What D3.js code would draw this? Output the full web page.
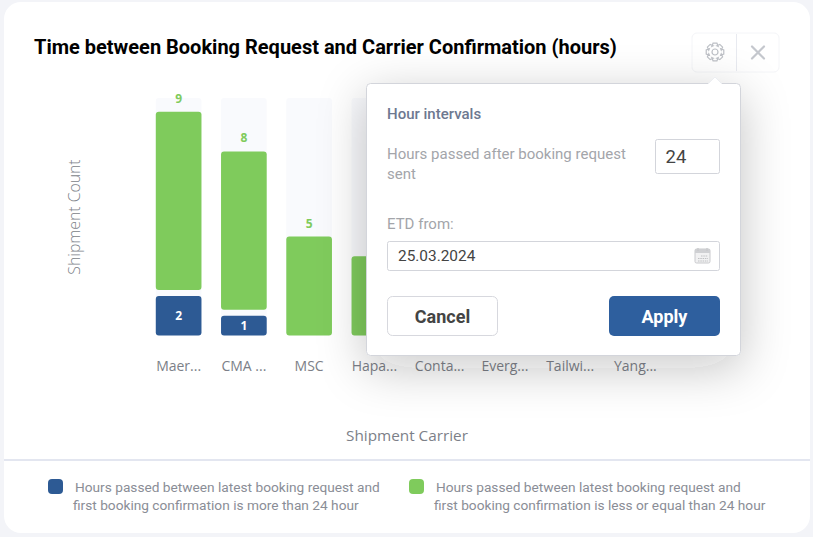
<!DOCTYPE html>
<html><head><meta charset="utf-8">
<script src="https://cdn.jsdelivr.net/npm/d3@7/dist/d3.min.js"></script>
<style>
html,body{margin:0;padding:0;background:#f3f4f8;overflow:hidden}
svg{display:block}
text{font-family:Roboto,sans-serif}
.os{font-family:"Open Sans",sans-serif}
</style></head><body>
<svg id="c" width="813" height="537"></svg>
<script>
const categories=["Maer...","CMA ...","MSC","Hapa...","Conta...","Everg...","Tailwi...","Yang..."];
// The last four carriers' values lie fully behind the popup and cannot be read: null, nothing drawn.
const lateCounts=[2,1,0,0,null,null,null,null];
const onTimeCounts=[9,8,5,4,null,null,null,null];
const yDomainMax=12;
const titleText="Time between Booking Request and Carrier Confirmation (hours)";
const yAxisTitle="Shipment Count";
const xAxisTitle="Shipment Carrier";
const legendLate=["Hours passed between latest booking request and","first booking confirmation is more than 24 hour"];
const legendOnTime=["Hours passed between latest booking request and","first booking confirmation is less or equal than 24 hour"];
const BLUE="#2d5a94",GREEN="#7fcb5c",GAP=6,POPUP_LEFT=366;

const svg=d3.select("#c");
const defs=svg.append("defs");
const f=defs.append("filter").attr("id","sh").attr("x","-40%").attr("y","-40%").attr("width","180%").attr("height","180%");
f.append("feDropShadow").attr("dx",0).attr("dy",12).attr("stdDeviation",24).attr("flood-color","#20242c").attr("flood-opacity",0.24);

// card
svg.append("rect").attr("x",4).attr("y",2).attr("width",806).attr("height",531).attr("rx",17).attr("fill","#fff");
svg.append("line").attr("x1",4).attr("x2",810).attr("y1",460).attr("y2",460).attr("stroke","#e3e6f0").attr("stroke-width",2);
svg.append("text").attr("x",34).attr("y",54).attr("font-size",20).attr("font-weight",700).attr("fill","#000").text(titleText);

// scales
const x=d3.scaleBand().domain(categories).range([146,668]).paddingInner(0.3).paddingOuter(0.15);
const y=d3.scaleLinear().domain([0,yDomainMax]).range([335.5,98]);
const g=svg.append("g");
const rows=categories.map((c,i)=>({c,late:lateCounts[i],ok:onTimeCounts[i]})).filter(d=>d.ok!==null);
const cx=d=>x(d.c)+x.bandwidth()/2;
g.selectAll(".bg").data(rows).join("rect").attr("x",d=>x(d.c)).attr("width",x.bandwidth())
 .attr("y",y(yDomainMax)).attr("height",y(0)-y(yDomainMax)).attr("rx",3).attr("fill","#f9fafd");
g.selectAll(".ok").data(rows).join("rect").attr("x",d=>x(d.c)).attr("width",x.bandwidth())
 .attr("y",d=>y(d.late+d.ok)-(d.late?GAP:0)).attr("height",d=>y(0)-y(d.ok)).attr("rx",3).attr("fill",GREEN);
g.selectAll(".late").data(rows.filter(d=>d.late)).join("rect").attr("x",d=>x(d.c)).attr("width",x.bandwidth())
 .attr("y",d=>y(d.late)).attr("height",d=>y(0)-y(d.late)).attr("rx",3).attr("fill",BLUE);
g.selectAll(".okl").data(rows.filter(d=>cx(d)<POPUP_LEFT)).join("text").attr("class","os").attr("x",cx)
 .attr("y",d=>y(d.late+d.ok)-(d.late?GAP:0)-9).attr("text-anchor","middle").attr("font-size",12).attr("font-weight",700).attr("fill",GREEN).text(d=>d.ok);
g.selectAll(".latel").data(rows.filter(d=>d.late)).join("text").attr("class","os").attr("x",cx)
 .attr("y",d=>y(d.late/2)+4.5).attr("text-anchor","middle").attr("font-size",12).attr("font-weight",700).attr("fill","#fff").text(d=>d.late);

const ax=svg.append("g").attr("transform","translate(0,371)").call(d3.axisBottom(x).tickSize(0).tickPadding(0));
ax.select(".domain").remove();
ax.selectAll("text").attr("class","os").attr("font-size",14).attr("font-family","Open Sans").attr("fill","#7c7f88").attr("dy",0).attr("y",0);

svg.append("text").attr("class","os").attr("transform","translate(80,217) rotate(-90)").attr("text-anchor","middle").attr("font-size",15.8).attr("fill","#7c7f88").attr("font-weight",300).text(yAxisTitle);
svg.append("text").attr("class","os").attr("x",407).attr("y",441).attr("text-anchor","middle").attr("font-size",15.3).attr("fill","#7c7f88").text(xAxisTitle);

// legend
const legend=[{x:48,tx:[75,73],c:BLUE,t:legendLate},{x:409,tx:[436,434],c:GREEN,t:legendOnTime}];
legend.forEach(l=>{
 svg.append("rect").attr("x",l.x).attr("y",479).attr("width",15).attr("height",15).attr("rx",4).attr("fill",l.c);
 l.t.forEach((s,i)=>svg.append("text").attr("x",l.tx[i]).attr("y",492+i*17.5).attr("font-size",13.7).attr("fill","#8a8d96").text(s));
});

// toolbar
svg.append("rect").attr("x",692).attr("y",33).attr("width",87).attr("height",39).attr("rx",5).attr("fill","#fff").attr("stroke","#f4f5f8");
svg.append("line").attr("x1",736.5).attr("x2",736.5).attr("y1",34).attr("y2",71).attr("stroke","#e8eaf0");
const gear=svg.append("g").attr("transform","translate(715,52)").attr("fill","none").attr("stroke","#bdc0c6").attr("stroke-width",1.2);
gear.append("path").attr("d",d3.range(8).map(i=>{const a=i*Math.PI/4,p=(r,o)=>[(r*Math.cos(a+o)).toFixed(2),(r*Math.sin(a+o)).toFixed(2)].join(",");
  return (i?"L":"M")+p(6.5,-.5)+"L"+p(9,-.22)+"L"+p(9,.22)+"L"+p(6.5,.5);}).join("")+"Z");
gear.append("circle").attr("r",3);
svg.append("path").attr("d","M752,46.5L764,58.5M764,46.5L752,58.5").attr("stroke","#c4c7cd").attr("stroke-width",2.2).attr("stroke-linecap","round");

// popup
svg.append("rect").attr("x",366.5).attr("y",83.5).attr("width",374).attr("height",272).attr("rx",4).attr("fill","#fff").attr("stroke","#d3d5db").attr("filter","url(#sh)");
svg.append("path").attr("d","M708,84L715,77L722,84").attr("fill","#fff").attr("stroke","#eceef2");
svg.append("rect").attr("x",709).attr("y",84).attr("width",12).attr("height",1.5).attr("fill","#fff");
svg.append("text").attr("x",387).attr("y",119).attr("font-size",15).attr("font-weight",500).attr("fill","#6d7890").text("Hour intervals");
svg.append("text").attr("x",387).attr("y",159).attr("font-size",15).attr("fill","#a3a5aa").text("Hours passed after booking request");
svg.append("text").attr("x",387).attr("y",179).attr("font-size",15).attr("fill","#a3a5aa").text("sent");
svg.append("rect").attr("x",655.5).attr("y",139.5).attr("width",64).attr("height",34).attr("rx",2).attr("fill","#fff").attr("stroke","#d3d5db");
svg.append("text").attr("x",665.5).attr("y",163).attr("font-size",18.5).attr("fill","#444").text("24");
svg.append("text").attr("x",387).attr("y",229).attr("font-size",15).attr("fill","#a3a5aa").text("ETD from:");
svg.append("rect").attr("x",387.5).attr("y",241.5).attr("width",332).attr("height",29).attr("rx",2).attr("fill","#fff").attr("stroke","#d3d5db");
svg.append("text").attr("x",398).attr("y",261).attr("font-size",15.4).attr("fill","#444").text("25.03.2024");
const cal=svg.append("g");
cal.append("rect").attr("x",695).attr("y",249).attr("width",15).attr("height",14).attr("rx",1.5).attr("fill","#f1f1f2").attr("stroke","#c9cacd");
cal.append("rect").attr("x",695).attr("y",249).attr("width",15).attr("height",4).attr("fill","#cfd0d3");
cal.append("path").attr("d","M698,248V251M707,248V251M701,256H708M698,258.5H708M698,261H708").attr("stroke","#bfc0c3").attr("stroke-width",1).attr("stroke-dasharray","1.5 .8").attr("fill","none");
svg.append("rect").attr("x",387.5).attr("y",296.5).attr("width",110).attr("height",39).attr("rx",5).attr("fill","#fff").attr("stroke","#d7d8de");
svg.append("text").attr("x",442.5).attr("y",322.5).attr("text-anchor","middle").attr("font-size",18).attr("font-weight",700).attr("fill","#444").text("Cancel");
svg.append("rect").attr("x",609).attr("y",296).attr("width",111).attr("height",40).attr("rx",5).attr("fill","#2e5f9e");
svg.append("text").attr("x",664.5).attr("y",322.5).attr("text-anchor","middle").attr("font-size",18).attr("font-weight",700).attr("fill","#fff").text("Apply");
</script></body></html>
